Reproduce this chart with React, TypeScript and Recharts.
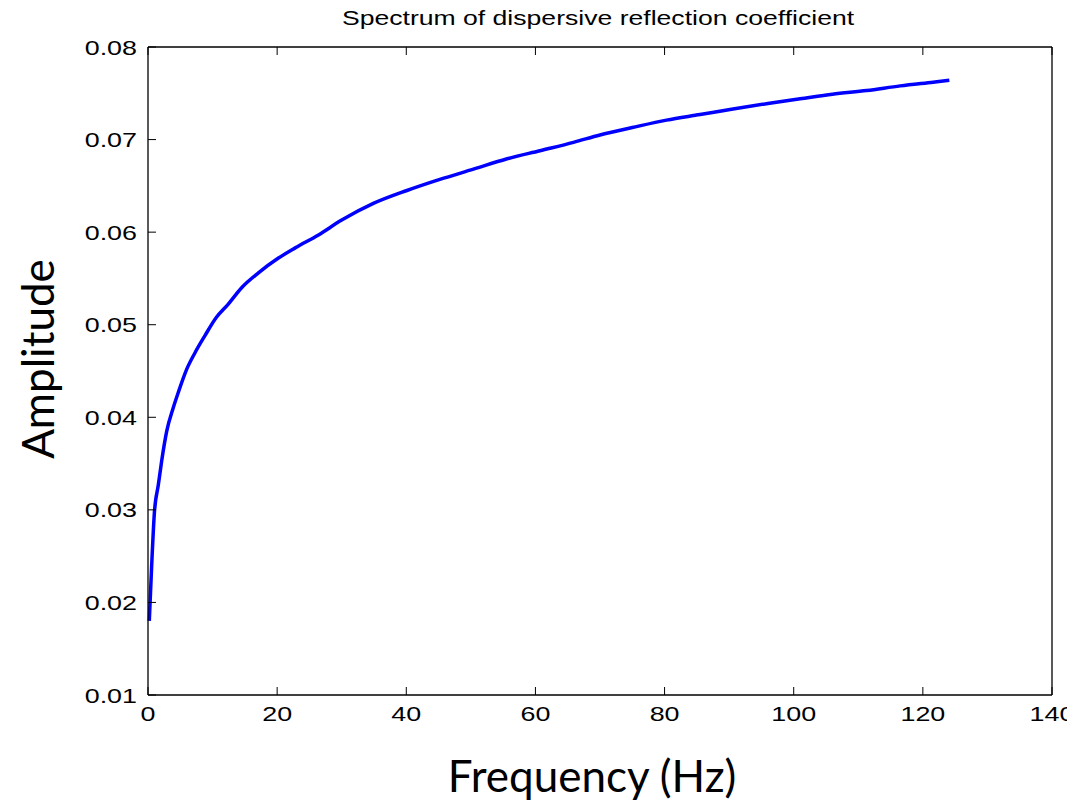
import { LineChart, Line, XAxis, YAxis } from "recharts";

// values
const freqHz = [
  0.2, 0.57, 1.0, 1.6, 2.1, 2.9, 3.9, 4.7, 6.0, 7.3, 8.8, 10.6, 12.4, 14.5,
  17.1, 20.2, 22.8, 26.4, 30.0, 34.9, 40.1, 45.2, 50.4, 55.5, 60.7, 65.9, 70.0,
  75.0, 80.3, 85.5, 90.6, 96.0, 101.0, 106.0, 111.3, 116.5, 121.6, 124.1,
];
const amplitude = [
  0.018, 0.024, 0.0298, 0.0327, 0.0352, 0.0385, 0.041, 0.0427, 0.0452,
  0.047, 0.0488, 0.0508, 0.0522, 0.054, 0.0556, 0.0572, 0.0583, 0.0597, 0.0613,
  0.0631, 0.0645, 0.0657, 0.0668, 0.0679, 0.0688, 0.0697, 0.0705, 0.0713,
  0.0721, 0.0727, 0.0733, 0.0739, 0.0744, 0.0749, 0.0753, 0.0758, 0.0762,
  0.0764,
];
const xTicks = [0, 20, 40, 60, 80, 100, 120, 140];
const yTicks = [0.01, 0.02, 0.03, 0.04, 0.05, 0.06, 0.07, 0.08];

const data = freqHz.map((f, i) => ({ f, a: amplitude[i] }));

const TICK_FONT = "'Liberation Sans', Arial, Helvetica, sans-serif";
const LABEL_FONT = "Lato, 'Open Sans', sans-serif";
const STRETCH = 1.28;
const TICK_LEN = 8;

const LeftTick = ({ x, y, payload }: any) => (
  <g>
    <line x1={x} y1={y} x2={x + TICK_LEN} y2={y} stroke="#000" strokeWidth={1} />
    <text
      transform={`translate(${x - 11},${y + 7.5}) scale(${STRETCH},1)`}
      textAnchor="end"
      fontSize={21}
      fontFamily={TICK_FONT}
      fill="#000"
    >
      {payload.value.toFixed(2)}
    </text>
  </g>
);

const RightTick = ({ x, y }: any) => (
  <line x1={x} y1={y} x2={x - TICK_LEN} y2={y} stroke="#000" strokeWidth={1} />
);

const BottomTick = ({ x, y, payload }: any) => (
  <g>
    <line x1={x} y1={y} x2={x} y2={y - TICK_LEN} stroke="#000" strokeWidth={1} />
    <text
      transform={`translate(${x},${y + 26}) scale(${STRETCH},1)`}
      textAnchor="middle"
      fontSize={21}
      fontFamily={TICK_FONT}
      fill="#000"
    >
      {payload.value}
    </text>
  </g>
);

const TopTick = ({ x, y }: any) => (
  <line x1={x} y1={y} x2={x} y2={y + TICK_LEN} stroke="#000" strokeWidth={1} />
);

const TitleLabel = () => (
  <text
    transform={`translate(598,25) scale(1.33,1)`}
    textAnchor="middle"
    fontSize={20}
    fontFamily={TICK_FONT}
    fill="#000"
  >
    Spectrum of dispersive reflection coefficient
  </text>
);

const XLabel = () => (
  <text x={592} y={792} textAnchor="middle" fontSize={44} fontFamily={LABEL_FONT} fill="#000">
    Frequency (Hz)
  </text>
);

const YLabel = () => (
  <text
    transform="translate(54,359) rotate(-90)"
    textAnchor="middle"
    fontSize={44}
    fontFamily={LABEL_FONT}
    fill="#000"
  >
    Amplitude
  </text>
);

export default function App() {
  return (
    <div style={{ position: "absolute", left: 0, top: 0, width: 1067, height: 801, background: "#fff" }}>
      <LineChart width={1067} height={801} data={data} margin={{ top: 0, right: 0, bottom: 0, left: 0 }}>
        <XAxis
          xAxisId="b"
          dataKey="f"
          type="number"
          domain={[0, 140]}
          ticks={xTicks}
          height={106}
          tickSize={0}
          tickMargin={0}
          tickLine={false}
          axisLine={{ stroke: "#000", strokeWidth: 1.3 }}
          tick={<BottomTick />}
          interval={0}
          label={<XLabel />}
        />
        <XAxis
          xAxisId="t"
          orientation="top"
          dataKey="f"
          type="number"
          domain={[0, 140]}
          ticks={xTicks}
          height={47}
          tickSize={0}
          tickMargin={0}
          tickLine={false}
          axisLine={{ stroke: "#000", strokeWidth: 1.3 }}
          tick={<TopTick />}
          interval={0}
          label={<TitleLabel />}
        />
        <YAxis
          yAxisId="l"
          type="number"
          domain={[0.01, 0.08]}
          ticks={yTicks}
          width={148}
          tickSize={0}
          tickMargin={0}
          tickLine={false}
          axisLine={{ stroke: "#000", strokeWidth: 1.3 }}
          tick={<LeftTick />}
          interval={0}
          label={<YLabel />}
        />
        <YAxis
          yAxisId="r"
          orientation="right"
          type="number"
          domain={[0.01, 0.08]}
          ticks={yTicks}
          width={15}
          tickSize={0}
          tickMargin={0}
          tickLine={false}
          axisLine={{ stroke: "#000", strokeWidth: 1.3 }}
          tick={<RightTick />}
          interval={0}
        />
        <Line
          xAxisId="b"
          yAxisId="l"
          dataKey="a"
          type="monotone"
          stroke="#0000ff"
          strokeWidth={3.5}
          dot={false}
          isAnimationActive={false}
        />
      </LineChart>
    </div>
  );
}
